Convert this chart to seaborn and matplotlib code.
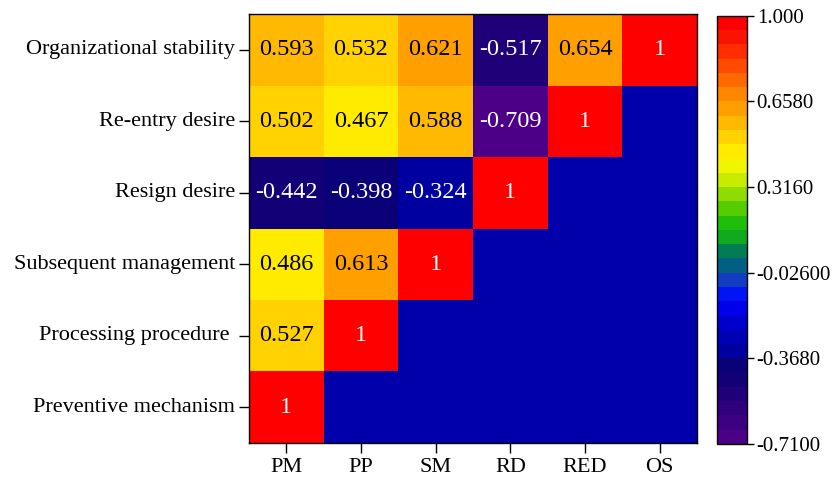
import numpy as np
import pandas as pd
import matplotlib
matplotlib.use("Agg")
import matplotlib.pyplot as plt
from matplotlib.colors import ListedColormap
import seaborn as sns

# ---- data ----
row_labels = ["Organizational stability", "Re-entry desire", "Resign desire",
              "Subsequent management", "Processing procedure ", "Preventive mechanism"]
col_labels = ["PM", "PP", "SM", "RD", "RED", "OS"]
row_os  = [0.593, 0.532, 0.621, -0.517, 0.654, 1]
row_red = [0.502, 0.467, 0.588, -0.709, 1, np.nan]
row_rd  = [-0.442, -0.398, -0.324, 1, np.nan, np.nan]
row_sm  = [0.486, 0.613, 1, np.nan, np.nan, np.nan]
row_pp  = [0.527, 1, np.nan, np.nan, np.nan, np.nan]
row_pm  = [1, np.nan, np.nan, np.nan, np.nan, np.nan]
cbar_ticks = [1.000, 0.6580, 0.3160, -0.02600, -0.3680, -0.7100]
cbar_ticklabels = ["1.000", "0.6580", "0.3160", "-0.02600", "-0.3680", "-0.7100"]
vmin, vmax = -0.71, 1.0

# ---- styling ----
sns.set_theme(style="white")
plt.rcParams["font.family"] = ["Liberation Serif", "DejaVu Serif"]
plt.rcParams["text.color"] = "black"
plt.rcParams["xtick.color"] = "black"
plt.rcParams["ytick.color"] = "black"
plt.rcParams["axes.labelcolor"] = "black"

band_rgb = [
    (75, 0, 135), (62, 0, 130), (48, 0, 125), (32, 0, 120), (18, 0, 118),
    (10, 0, 120), (0, 0, 160), (0, 0, 180), (0, 0, 205), (0, 0, 235),
    (0, 20, 245), (20, 60, 195), (0, 95, 130), (0, 125, 85), (15, 170, 30),
    (30, 190, 10), (85, 205, 0), (145, 220, 0), (200, 235, 0), (240, 245, 0),
    (255, 235, 0), (255, 210, 0), (255, 185, 0), (255, 160, 0), (255, 135, 0),
    (255, 105, 0), (255, 75, 0), (255, 45, 0), (250, 20, 0), (255, 0, 0),
]
cmap = ListedColormap([(r / 255, g / 255, b / 255) for r, g, b in band_rgb])
blank_color = (0 / 255, 0 / 255, 170 / 255)

df = pd.DataFrame([row_os, row_red, row_rd, row_sm, row_pp, row_pm],
                  index=row_labels, columns=col_labels)
annot = df.map(lambda v: "" if pd.isna(v) else ("1" if v == 1 else f"{v:.3f}"))

fig = plt.figure(figsize=(8.37, 4.8), dpi=100)
ax = fig.add_axes([0.2975, 0.0771, 0.5352, 0.8937])
cax = fig.add_axes([0.8566, 0.075, 0.0359, 0.892])
ax.set_facecolor(blank_color)

sns.heatmap(df, ax=ax, cbar_ax=cax, cmap=cmap, vmin=vmin, vmax=vmax,
            annot=annot.values, fmt="", mask=df.isna(),
            annot_kws={"fontsize": 17.5, "family": ["Liberation Serif"]},
            linewidths=0)

# text colors
for t in ax.texts:
    s = t.get_text()
    if s == "1" or s.startswith("-"):
        t.set_color("white")
    else:
        t.set_color("black")

for sp in ax.spines.values():
    sp.set_visible(True)
    sp.set_color("black")
    sp.set_linewidth(1.0)

ax.tick_params(axis="both", which="major", length=7, width=1, color="black",
               labelcolor="black", pad=3, left=True, bottom=True)
ax.tick_params(axis="x", labelsize=16, pad=4)
ax.tick_params(axis="y", labelsize=16, pad=3)
ax.set_xlabel("")
ax.set_ylabel("")
plt.setp(ax.get_yticklabels(), rotation=0)
plt.setp(ax.get_xticklabels(), rotation=0)

cb = ax.collections[0].colorbar
cb.set_ticks(cbar_ticks)
cb.set_ticklabels(cbar_ticklabels)
cb.outline.set_visible(True)
cb.outline.set_linewidth(1.0)
cb.outline.set_edgecolor("black")
cax.tick_params(length=5, width=1, color="black", labelcolor="black",
                labelsize=15, pad=2, right=True)

fig.savefig("out.png", dpi=100, facecolor="white")
